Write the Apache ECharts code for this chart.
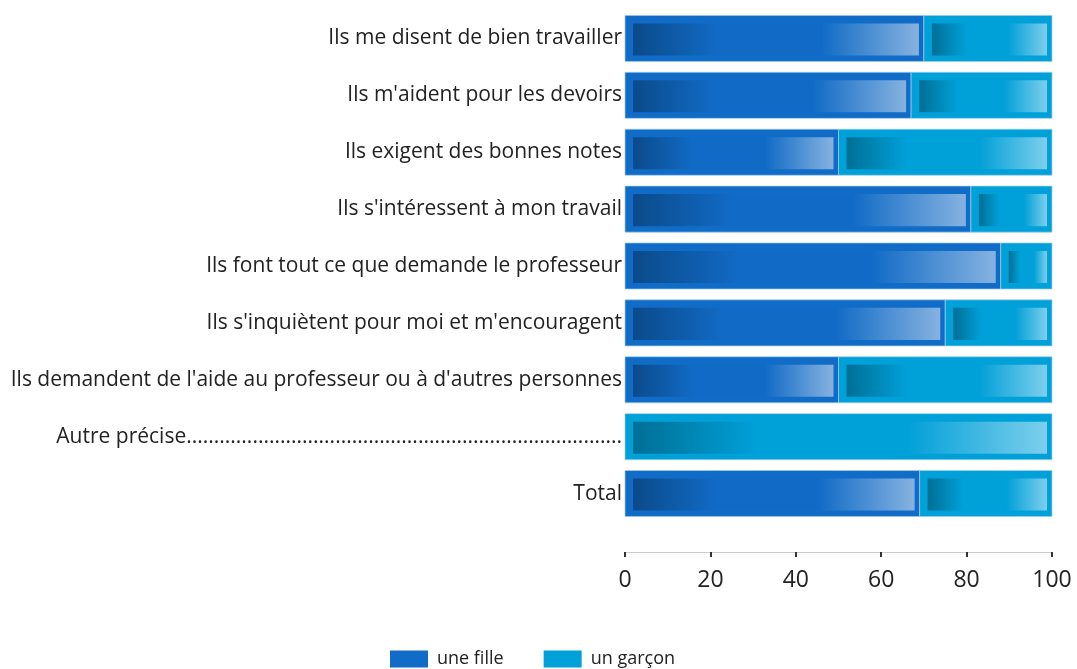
<!DOCTYPE html>
<html>
<head>
<meta charset="utf-8">
<script src="https://cdn.jsdelivr.net/npm/echarts@6/dist/echarts.min.js"></script>
<style>
    html, body { margin: 0; padding: 0; background: #fff; }
    #main { width: 1077px; height: 669px; }
</style>
</head>
<body>
<div id="main"></div>
<script>
// Categories, top to bottom
const categories = [
    "Ils me disent de bien travailler",
    "Ils m'aident pour les devoirs",
    "Ils exigent des bonnes notes",
    "Ils s'intéressent à mon travail",
    "Ils font tout ce que demande le professeur",
    "Ils s'inquiètent pour moi et m'encouragent",
    "Ils demandent de l'aide au professeur ou à d'autres personnes",
    "Autre précise...............................................................................",
    "Total",
];
// Percentages per category
const fille = [70, 67, 50, 81, 88, 75, 50, 0, 69];
const garcon = [30, 33, 50, 19, 12, 25, 50, 100, 31];
const xTicks = [0, 20, 40, 60, 80, 100];

const FONT = "Open Sans";

const chart = echarts.init(document.getElementById("main"));

// Draws one bar segment: solid outer block + inset gradient block
const makeRender = (outer, stops) => (params, api) => {
    const cat = api.value(0);
    const x0 = api.value(1);
    const x1 = api.value(2);
    if (x1 - x0 <= 0) return;
    const p0 = api.coord([x0, cat]);
    const p1 = api.coord([x1, cat]);
    const h = api.size([0, 1])[1] * 0.81;
    const y = p0[1] - h / 2;
    const w = p1[0] - p0[0];
    return {
        type: "group",
        children: [
            {
                type: "rect",
                shape: { x: p0[0], y: y, width: w, height: h },
                style: { fill: outer, stroke: "rgba(160,205,238,0.7)", lineWidth: 1 },
            },
            {
                type: "rect",
                shape: { x: p0[0] + 8, y: y + 8, width: w - 13, height: h - 14 },
                style: { fill: new echarts.graphic.LinearGradient(0, 0, 1, 0, stops) },
            },
        ],
    };
};

const filleStops = [
    { offset: 0, color: "#0b4a8a" },
    { offset: 0.3, color: "#116bc6" },
    { offset: 0.66, color: "#116bc6" },
    { offset: 1, color: "#86b2e0" },
];
const garconStops = [
    { offset: 0, color: "#006f96" },
    { offset: 0.3, color: "#00a0d8" },
    { offset: 0.66, color: "#00a0d8" },
    { offset: 1, color: "#7dcfec" },
];

const filleData = categories.map((c, i) => [i, 0, fille[i]]);
const garconData = categories.map((c, i) => [i, fille[i], fille[i] + garcon[i]]);

const options = {
    animation: false,
    grid: {
        left: 625,
        right: 25,
        top: 10,
        bottom: 147,
    },
    xAxis: {
        type: "value",
        min: 0,
        max: 100,
        interval: 20,
        offset: 30,
        splitLine: { show: false },
        axisLine: { show: true, lineStyle: { color: "#cccccc", width: 1 } },
        axisTick: { show: true, length: 5, lineStyle: { color: "#333333", width: 2 } },
        axisLabel: {
            margin: 17,
            color: "#222222",
            fontFamily: FONT,
            fontSize: 23,
            formatter: (v) => (xTicks.includes(v) ? String(v) : ""),
        },
    },
    yAxis: {
        type: "category",
        data: categories,
        inverse: true,
        axisLine: { show: false },
        axisTick: { show: false },
        axisLabel: {
            margin: 3,
            color: "#222222",
            fontFamily: FONT,
            fontSize: 21,
        },
    },
    legend: {
        top: 645,
        left: 385,
        itemWidth: 38,
        itemHeight: 17,
        itemGap: 40,
        icon: "rect",
        textStyle: { color: "#222222", fontFamily: FONT, fontSize: 18, padding: [0, 0, 0, 4] },
        data: ["une fille", "un garçon"],
    },
    series: [
        {
            name: "une fille",
            type: "custom",
            itemStyle: { color: "#116cc7" },
            encode: { x: [1, 2], y: 0 },
            renderItem: makeRender("#116cc7", filleStops),
            data: filleData,
        },
        {
            name: "un garçon",
            type: "custom",
            itemStyle: { color: "#00a0d9" },
            encode: { x: [1, 2], y: 0 },
            renderItem: makeRender("#00a0d9", garconStops),
            data: garconData,
        },
    ],
};

chart.setOption(options);
</script>
</body>
</html>
